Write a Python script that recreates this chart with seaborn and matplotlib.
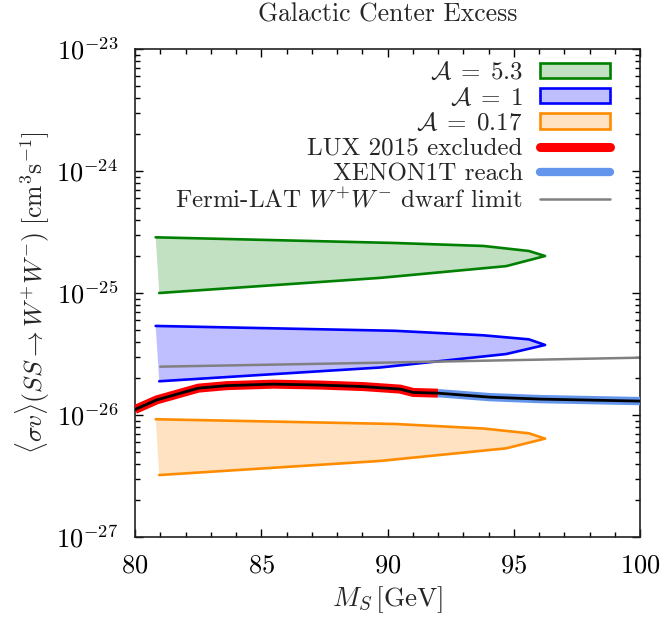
import numpy as np
import pandas as pd
import matplotlib
matplotlib.use('Agg')
import matplotlib.pyplot as plt
import seaborn as sns
from matplotlib.patches import Patch
from matplotlib.lines import Line2D
from matplotlib.ticker import LogLocator, MultipleLocator, NullFormatter, FixedLocator

# ---------------- data ----------------
upper_x = [80.82, 90.3, 93.8, 95.6, 96.24]
lower_x = [94.7, 89.7, 80.96]

green_upper = [2.86e-25, 2.57e-25, 2.43e-25, 2.21e-25, 2.01e-25]
green_lower = [1.66e-25, 1.33e-25, 1.00e-25]
blue_upper = [5.37e-26, 4.90e-26, 4.50e-26, 4.17e-26, 3.75e-26]
blue_lower = [3.16e-26, 2.45e-26, 1.89e-26]
orange_upper = [9.23e-27, 8.44e-27, 7.75e-27, 7.08e-27, 6.40e-27]
orange_lower = [5.33e-27, 4.2e-27, 3.22e-27]

lux_x = [80.0, 80.86, 82.51, 83.63, 85.48, 87.33, 89.04, 90.5, 91.02, 92.0]
lux_y = [1.11e-26, 1.33e-26, 1.66e-26, 1.74e-26, 1.79e-26, 1.76e-26, 1.71e-26, 1.63e-26, 1.53e-26, 1.51e-26]
xenon_x = [92.0, 94.06, 96.04, 100.0]
xenon_y = [1.51e-26, 1.40e-26, 1.35e-26, 1.30e-26]

fermi_x = [81.0, 90.0, 100.0]
fermi_y = [2.49e-26, 2.69e-26, 2.95e-26]

region_labels = [r'$\mathcal{A}\;=\;5.3$', r'$\mathcal{A}\;=\;1$', r'$\mathcal{A}\;=\;0.17$']
x_ticks = [80, 85, 90, 95, 100]
y_ticks = [1e-27, 1e-26, 1e-25, 1e-24, 1e-23]

# ---------------- style ----------------
sns.set_theme(style='ticks')
plt.rcParams['mathtext.fontset'] = 'cm'
plt.rcParams['font.family'] = ['cmr10', 'DejaVu Serif']
plt.rcParams['axes.formatter.use_mathtext'] = True
plt.rcParams['axes.unicode_minus'] = True

fig = plt.figure(figsize=(6.66, 6.18), dpi=100)
ax = fig.add_axes([135/666, 1-537/618, 505/666, 488/618])

regions = [
    (green_upper, green_lower, '#008000', '#c2e0c2'),
    (blue_upper, blue_lower, '#0000ff', '#bfbfff'),
    (orange_upper, orange_lower, '#ff8c00', '#ffe2c2'),
]
for up, lo, ec, fc in regions:
    px = upper_x + lower_x
    py = up + lo
    ax.fill(px, py, color=fc, lw=0, zorder=1)
    df = pd.DataFrame({'x': px, 'y': py})
    sns.lineplot(data=df, x='x', y='y', sort=False, estimator=None,
                 color=ec, lw=1.9, ax=ax, zorder=2)

lux = pd.DataFrame({'x': lux_x, 'y': lux_y})
xen = pd.DataFrame({'x': xenon_x, 'y': xenon_y})
sns.lineplot(data=lux, x='x', y='y', sort=False, estimator=None, color='#ff0000',
             lw=6.5, ax=ax, zorder=3, solid_capstyle='butt')
sns.lineplot(data=xen, x='x', y='y', sort=False, estimator=None, color='#6495ed',
             lw=6.0, ax=ax, zorder=3, solid_capstyle='butt')
allline = pd.DataFrame({'x': lux_x + xenon_x[1:], 'y': lux_y + xenon_y[1:]})
sns.lineplot(data=allline, x='x', y='y', sort=False, estimator=None, color='black',
             lw=2.0, ax=ax, zorder=4)

fermi = pd.DataFrame({'x': fermi_x, 'y': fermi_y})
sns.lineplot(data=fermi, x='x', y='y', sort=False, estimator=None, color='#808080',
             lw=1.8, ax=ax, zorder=2.5)

ax.set_yscale('log')
ax.set_xlim(80, 100)
ax.set_ylim(1e-27, 1e-23)
ax.xaxis.set_major_locator(FixedLocator(x_ticks))
ax.xaxis.set_minor_locator(MultipleLocator(1))
ax.yaxis.set_major_locator(FixedLocator(y_ticks))
ax.yaxis.set_minor_locator(LogLocator(base=10, subs=np.arange(2, 10), numticks=20))
ax.yaxis.set_minor_formatter(NullFormatter())
ax.tick_params(which='both', direction='in', top=True, right=True, colors='black',
               labelsize=19, pad=12, width=1.0)
ax.tick_params(which='major', length=6)
ax.tick_params(which='minor', length=3.5)
for s in ax.spines.values():
    s.set_linewidth(1.2)
    s.set_color('#222222')

ax.set_xlabel(r'$M_S\,[\mathrm{GeV}]$', fontsize=19.5, labelpad=5)
ax.set_ylabel(r'$\langle\sigma v\rangle(SS\to W^{+}W^{-})\;[\mathrm{cm}^3\mathrm{s}^{-1}]$',
              fontsize=18.5, labelpad=3)
ax.set_title('Galactic Center Excess', fontsize=18.5, pad=20)

handles = [
    Patch(facecolor='#c2e0c2', edgecolor='#008000', lw=1.9),
    Patch(facecolor='#bfbfff', edgecolor='#0000ff', lw=1.9),
    Patch(facecolor='#ffe2c2', edgecolor='#ff8c00', lw=1.9),
    Line2D([], [], color='#ff0000', lw=6.5),
    Line2D([], [], color='#6495ed', lw=6.0),
    Line2D([], [], color='#808080', lw=1.8),
]
labels = region_labels + ['LUX 2015 excluded', 'XENON1T reach',
                          r'Fermi-LAT $W^{+}W^{-}$ dwarf limit']
ax.legend(handles, labels, loc='upper right', markerfirst=False, frameon=False,
          fontsize=18, handlelength=2.8, handleheight=0.56, labelspacing=0.12,
          handletextpad=0.68, borderaxespad=0.0, borderpad=0.4,
          bbox_to_anchor=(0.96, 0.994))

fig.savefig('out.png', dpi=100)
